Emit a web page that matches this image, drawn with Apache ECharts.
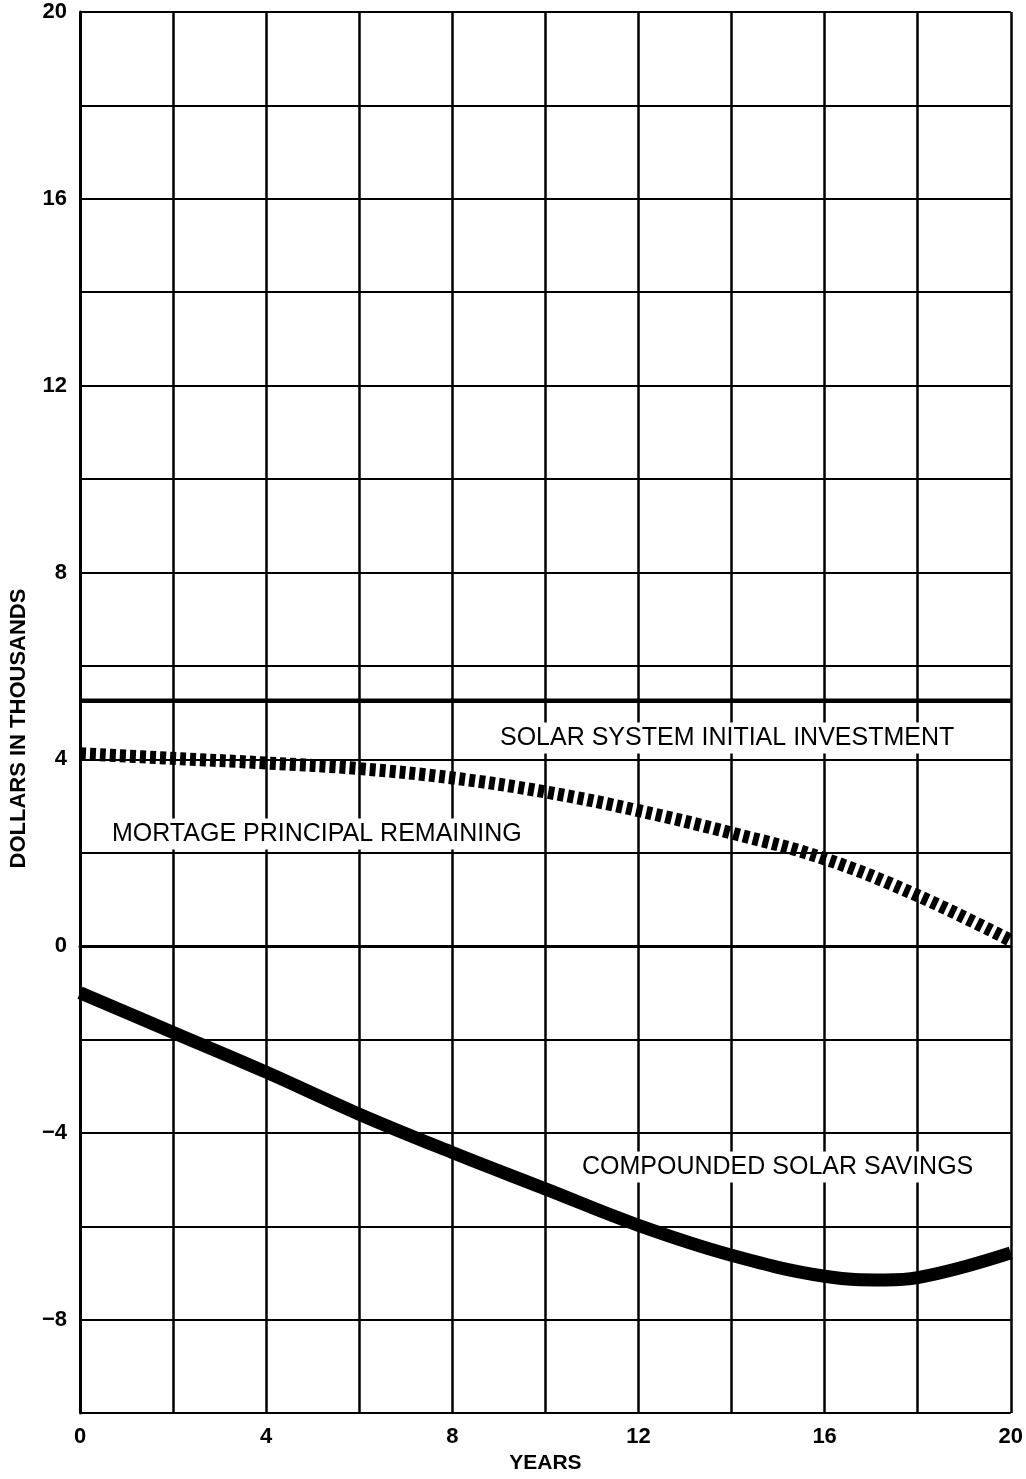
<!DOCTYPE html>
<html>
<head>
<meta charset="utf-8">
<script src="https://cdn.jsdelivr.net/npm/echarts@6/dist/echarts.min.js"></script>
<style>
html,body{margin:0;padding:0;background:#fff;}
#chart{width:1026px;height:1479px;}
</style>
</head>
<body>
<div id="chart"></div>
<script>
// Data (years, thousands of dollars)
var investmentYears = [0, 20];
var investmentValues = [5.25, 5.25];

var mortgageYears = [0, 2, 4, 6, 8, 10, 12, 14, 16, 18, 20];
var mortgageValues = [4.12, 4.02, 3.92, 3.8, 3.6, 3.3, 2.9, 2.42, 1.87, 1.08, 0.12];

var savingsYears = [0, 2, 4, 6, 8, 10, 12, 14, 16, 17.3, 18, 20];
var savingsValues = [-1.0, -1.85, -2.7, -3.6, -4.42, -5.2, -5.98, -6.62, -7.07, -7.15, -7.1, -6.57];

var xTicks = [0, 4, 8, 12, 16, 20];
var yTicks = [-8, -4, 0, 4, 8, 12, 16, 20];

var labelInvestment = 'SOLAR SYSTEM INITIAL INVESTMENT';
var labelMortgage = 'MORTAGE PRINCIPAL REMAINING';
var labelSavings = 'COMPOUNDED SOLAR SAVINGS';

function pairs(xs, ys) { return xs.map(function (x, i) { return [x, ys[i]]; }); }

var chart = echarts.init(document.getElementById('chart'));
var FONT = '"Liberation Sans", Arial, Helvetica, sans-serif';

function bodyText(text, x, y) {
  return { type: 'text', x: x, y: y, z: 10,
    style: { text: text, fill: '#000', font: '25px ' + FONT, textAlign: 'left', textVerticalAlign: 'middle',
             backgroundColor: '#ffffff', padding: [3, 4, 3, 4] } };
}

var option = {
  backgroundColor: '#ffffff',
  animation: false,
  grid: { left: 80, right: 13, top: 12, bottom: 58, containLabel: false },
  xAxis: {
    type: 'value', min: 0, max: 20, interval: 2,
    name: 'YEARS', nameLocation: 'middle', nameGap: 33,
    nameTextStyle: { color: '#000', fontSize: 21, fontWeight: 'bold', fontFamily: FONT },
    axisLine: { show: true, lineStyle: { color: '#000', width: 3 } },
    axisTick: { show: false },
    axisLabel: {
      color: '#000', fontSize: 22, fontWeight: 'bold', fontFamily: FONT, margin: 13,
      formatter: function (v) { return xTicks.indexOf(v) >= 0 ? String(v) : ''; }
    },
    splitLine: { show: true, lineStyle: { color: '#000', width: 2.5 } }
  },
  yAxis: {
    type: 'value', min: -10, max: 20, interval: 2,
    name: 'DOLLARS IN THOUSANDS', nameLocation: 'middle', nameGap: 50, nameRotate: 90,
    nameTextStyle: { color: '#000', fontSize: 22, fontWeight: 'bold', fontFamily: FONT, padding: [0, 32, 0, 0] },
    axisLine: { show: true, lineStyle: { color: '#000', width: 3 } },
    axisTick: { show: false },
    axisLabel: {
      color: '#000', fontSize: 22, fontWeight: 'bold', fontFamily: FONT, margin: 13,
      formatter: function (v) { return yTicks.indexOf(v) >= 0 ? String(v).replace('-', '\u2212') : ''; }
    },
    splitLine: { show: true, lineStyle: { color: '#000', width: 2 } }
  },
  series: [
    {
      name: 'Solar system initial investment', type: 'line', showSymbol: false,
      data: pairs(investmentYears, investmentValues),
      lineStyle: { color: '#000', width: 4.5 }, z: 3
    },
    {
      name: 'Mortgage principal remaining', type: 'line', showSymbol: false, smooth: 0.4,
      data: pairs(mortgageYears, mortgageValues),
      lineStyle: { color: '#000', width: 13, type: [6, 4], cap: 'butt' }, z: 3
    },
    {
      name: 'Compounded solar savings', type: 'line', showSymbol: false, smooth: 0.4,
      data: pairs(savingsYears, savingsValues),
      lineStyle: { color: '#000', width: 13, cap: 'butt' }, z: 3
    }
  ],
  graphic: [
    bodyText(labelInvestment, 496, 738),
    bodyText(labelMortgage, 108, 834),
    bodyText(labelSavings, 578, 1167)
  ]
};
chart.setOption(option);
</script>
</body>
</html>
